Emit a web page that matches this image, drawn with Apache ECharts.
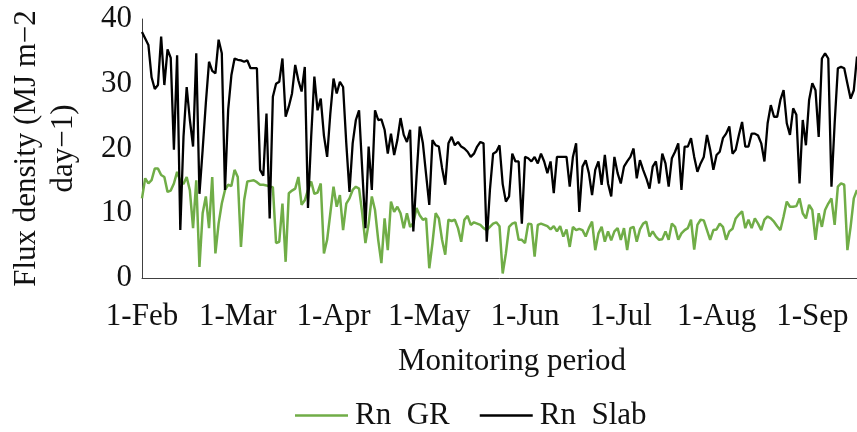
<!DOCTYPE html>
<html>
<head>
<meta charset="utf-8">
<script src="https://cdn.jsdelivr.net/npm/echarts@6/dist/echarts.min.js"></script>
<style>
html,body{margin:0;padding:0;background:#fff;}
#chart{width:857px;height:432px;}
</style>
</head>
<body>
<div id="chart"></div>
<script>
// Daily values, 1-Feb onwards (225 days)
const rnSlab = [
38.0,37.0,36.0,31.0,29.2,29.8,37.3,29.8,35.3,34.0,19.8,34.4,7.4,21.8,29.5,24.4,20.3,34.7,13.0,19.8,
27.0,33.4,32.0,31.6,36.8,34.7,13.6,26.0,31.3,33.9,33.7,33.6,33.4,33.6,32.4,32.4,32.4,16.7,15.8,25.4,
9.2,28.0,30.0,30.3,33.9,24.9,26.5,28.5,32.9,30.5,28.8,32.6,10.8,21.8,31.1,25.9,27.7,22.0,18.7,25.4,
30.8,28.5,30.3,29.5,20.8,13.3,20.8,24.4,25.9,16.7,7.7,20.3,13.6,25.9,24.4,24.5,22.9,19.2,22.3,19.0,
21.3,24.7,22.1,21.0,22.9,7.2,15.6,23.4,20.8,16.0,11.3,21.3,20.5,20.3,17.0,14.4,20.8,21.8,20.5,21.0,
20.3,20.0,19.5,18.7,19.2,20.3,21.0,20.8,5.6,13.6,19.2,19.5,20.5,14.5,11.8,12.6,19.2,18.0,18.0,8.4,
18.7,18.5,18.0,18.7,17.7,19.2,18.0,16.2,18.0,13.1,18.7,18.7,18.7,18.7,14.1,18.7,20.8,10.2,17.2,18.2,
16.2,12.8,16.7,18.0,14.4,19.0,14.6,12.6,18.7,16.2,14.6,17.2,18.0,18.7,20.0,15.4,18.2,16.7,15.4,13.8,
17.2,18.0,14.6,19.2,17.7,14.1,18.5,19.5,20.8,13.6,20.3,20.3,21.6,18.7,16.4,17.7,18.7,22.1,19.8,16.7,
19.0,19.5,21.6,22.3,23.4,19.2,19.8,22.1,24.1,20.3,20.3,22.3,22.3,22.0,20.8,18.0,23.9,26.7,24.9,24.9,
27.5,29.0,23.9,22.1,26.2,25.2,14.6,24.4,20.5,27.5,30.1,29.0,21.8,33.9,34.7,33.9,14.1,23.9,32.4,32.6,
32.4,30.0,27.7,29.0,34.2
];
const rnGR = [
12.3,15.4,14.6,15.1,16.9,16.9,15.9,15.6,13.3,13.5,14.6,16.4,15.0,14.5,15.6,13.5,7.7,15.1,1.7,10.0,
12.6,7.7,15.6,3.8,8.4,11.5,13.6,14.4,14.2,16.7,15.6,4.8,12.0,14.9,15.0,15.1,14.8,14.4,14.4,14.3,
14.1,14.0,5.4,5.6,11.5,2.5,13.1,13.5,13.8,15.6,11.3,12.0,13.6,14.9,13.0,13.2,14.6,3.8,5.9,10.0,
14.1,11.0,12.8,7.4,11.5,12.3,13.6,14.1,13.8,10.0,5.4,8.4,12.6,10.5,5.9,2.3,9.2,4.3,11.8,10.2,
11.0,10.0,7.7,10.0,7.9,8.5,10.8,9.7,9.0,9.2,1.5,5.4,10.0,9.2,5.9,3.6,9.0,8.8,9.0,7.7,
5.6,9.0,9.6,8.2,8.6,8.4,8.2,7.7,7.4,7.9,8.4,8.6,8.0,0.7,3.8,7.9,8.4,8.6,5.9,5.9,
5.4,8.4,8.3,3.3,8.2,8.4,8.2,8.0,7.5,8.0,7.2,8.0,6.4,7.5,4.8,7.9,7.4,7.6,7.4,6.4,
7.7,8.7,4.3,6.9,7.9,5.6,7.2,5.8,7.2,7.7,5.9,7.7,4.3,7.7,7.9,5.6,7.5,8.4,8.7,6.4,
7.2,6.4,5.9,6.0,7.2,5.9,8.4,7.9,5.9,6.9,7.4,7.7,9.0,4.4,8.2,9.0,8.9,7.4,5.9,7.4,
7.5,8.4,7.9,5.9,7.2,7.6,9.2,9.8,10.3,7.7,9.0,7.7,9.2,8.4,7.4,9.0,9.5,9.2,8.7,8.0,
7.4,9.5,11.8,11.0,11.0,11.1,12.3,10.0,9.2,11.3,10.5,5.9,10.0,7.9,10.5,11.5,12.3,8.2,14.1,14.6,
14.4,4.3,7.9,12.3,13.6
];
const tickLabels = ['1-Feb','1-Mar','1-Apr','1-May','1-Jun','1-Jul','1-Aug','1-Sep'];
const categories = rnSlab.map((_, i) => String(i));
const yTicks = [0, 10, 20, 30, 40];

const FONT = "'Liberation Serif','Times New Roman',serif";
const chart = echarts.init(document.getElementById('chart'), null, {renderer: 'canvas'});
chart.setOption({
  animation: false,
  backgroundColor: '#ffffff',
  textStyle: {fontFamily: FONT, color: '#111'},
  grid: {left: 138, right: 0, top: 19, bottom: 154, containLabel: false},
  legend: {
    left: 290, top: 395,
    icon: 'rect', itemWidth: 53, itemHeight: 2.5, itemGap: 30,
    textStyle: {fontFamily: FONT, fontSize: 31, color: '#111', padding: [0,0,0,2]},
    data: ['Rn  GR', 'Rn  Slab']
  },
  xAxis: {
    type: 'category',
    data: categories,
    boundaryGap: false,
    name: 'Monitoring period',
    nameLocation: 'middle',
    nameGap: 68,
    nameTextStyle: {fontFamily: FONT, fontSize: 31, color: '#111', padding: [0,0,0,25]},
    axisLine: {show: true, lineStyle: {color: '#404040', width: 1}},
    axisTick: {show: false},
    splitLine: {show: false},
    axisLabel: {
      interval: 29,
      margin: 23,
      fontFamily: FONT, fontSize: 31, color: '#111',
      formatter: (v, i) => (i % 30 === 0 ? (tickLabels[i / 30] || '') : '')
    }
  },
  yAxis: {
    type: 'value',
    min: yTicks[0], max: yTicks[yTicks.length - 1], interval: 10,
    name: 'Flux density (MJ m\u22122\nday\u22121)',
    nameLocation: 'middle',
    nameRotate: 90,
    nameGap: 60,
    nameTextStyle: {fontFamily: FONT, fontSize: 31, color: '#111', lineHeight: 37},
    axisLine: {show: true, lineStyle: {color: '#404040', width: 1}},
    axisTick: {show: false},
    splitLine: {show: false},
    axisLabel: {margin: 10, fontFamily: FONT, fontSize: 31, color: '#111'}
  },
  series: [
    {
      name: 'Rn  GR', type: 'line', data: rnGR,
      showSymbol: false, symbol: 'none',
      lineStyle: {color: '#70ad47', width: 2.5},
      itemStyle: {color: '#70ad47'}, z: 2
    },
    {
      name: 'Rn  Slab', type: 'line', data: rnSlab,
      showSymbol: false, symbol: 'none',
      lineStyle: {color: '#000000', width: 2.3},
      itemStyle: {color: '#000000'}, z: 3
    }
  ]
});
</script>
</body>
</html>
